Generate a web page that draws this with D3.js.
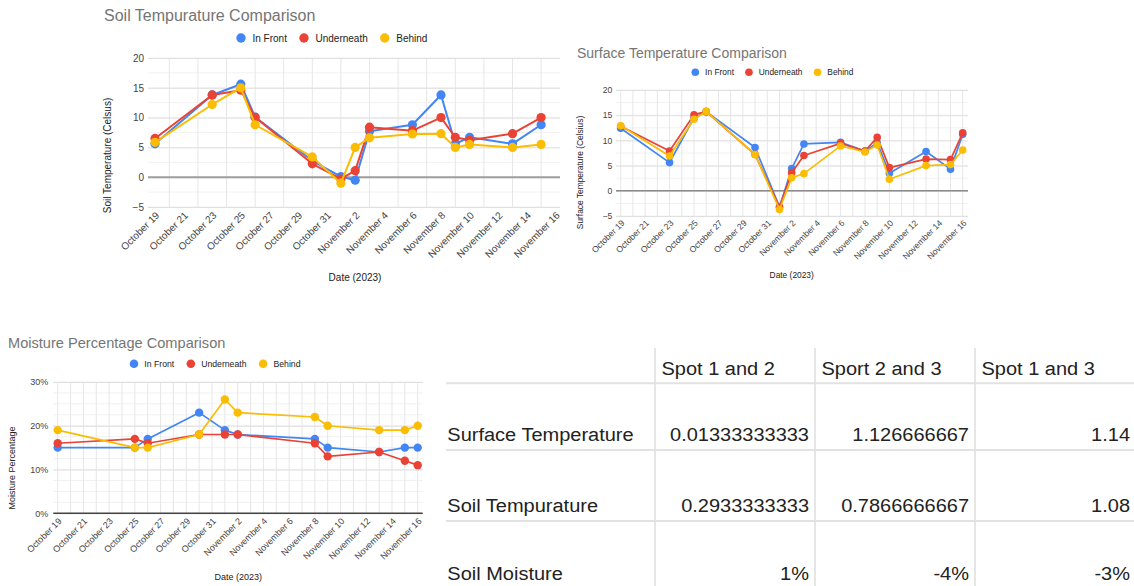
<!DOCTYPE html>
<html>
<head>
<meta charset="utf-8">
<script src="https://cdn.jsdelivr.net/npm/d3@7"></script>
<style>
  body { margin: 0; background: #fff; }
  svg { display: block; font-family: "Liberation Sans", Arial, sans-serif; }
</style>
</head>
<body>
<div id="svg-container"></div>
<script>
////////////////////////////////////////////////////////////////////
//////////////////////////////  Data  //////////////////////////////
const seriesNames = ["In Front", "Underneath", "Behind"];
const seriesColors = ["#4285f4", "#ea4335", "#fbbc04"];

const soilDates = ["2023-10-19", "2023-10-23", "2023-10-25", "2023-10-26", "2023-10-30", "2023-11-01", "2023-11-02",
    "2023-11-03", "2023-11-06", "2023-11-08", "2023-11-09", "2023-11-10", "2023-11-13", "2023-11-15"];
const soilFront = [5.6, 13.8, 15.6, 10.1, 2.75, 0.1, -0.5, 7.7, 8.8, 13.8, 5.6, 6.7, 5.6, 8.8];
const soilUnder = [6.5, 13.8, 14.6, 10.05, 2.25, -0.3, 1.1, 8.4, 7.8, 10.0, 6.7, 6.2, 7.3, 10.0];
const soilBehind = [5.85, 12.2, 15.0, 8.8, 3.4, -1.0, 5.0, 6.6, 7.25, 7.3, 5.0, 5.5, 5.0, 5.5];

const surfDates = ["2023-10-19", "2023-10-23", "2023-10-25", "2023-10-26", "2023-10-30", "2023-11-01", "2023-11-02",
    "2023-11-03", "2023-11-06", "2023-11-08", "2023-11-09", "2023-11-10", "2023-11-13", "2023-11-15", "2023-11-16"];
const surfFront = [12.4, 5.6, 14.5, 15.7, 8.6, -3.2, 4.4, 9.3, 9.6, 7.9, 9.5, 3.5, 7.8, 4.3, 11.2];
const surfUnder = [12.8, 7.9, 15.1, 15.7, 7.2, -3.2, 3.6, 7.0, 9.4, 7.9, 10.6, 4.6, 6.3, 6.2, 11.5];
const surfBehind = [12.9, 6.9, 14.2, 15.75, 7.2, -3.7, 2.6, 3.4, 8.9, 7.7, 9.1, 2.3, 5.0, 5.2, 8.1];

const moistDates = ["2023-10-19", "2023-10-25", "2023-10-26", "2023-10-30", "2023-11-01", "2023-11-02",
    "2023-11-08", "2023-11-09", "2023-11-13", "2023-11-15", "2023-11-16"];
const moistFront = [15, 15, 17, 23, 19, 18, 17, 15, 14, 15, 15];
const moistUnder = [16, 17, 16, 18, 18, 18, 16, 13, 14, 12, 11];
const moistBehind = [19, 15, 15, 18, 26, 23, 22, 20, 19, 19, 20];

const tableCols = ["Spot 1 and 2", "Sport 2 and 3", "Spot 1 and 3"];
const tableRows = ["Surface Temperature", "Soil Tempurature", "Soil Moisture"];
const tableValues = [
    ["0.01333333333", "1.126666667", "1.14"],
    ["0.2933333333", "0.7866666667", "1.08"],
    ["1%", "-4%", "-3%"]
];

////////////////////////////////////////////////////////////////////
//////////////////////////////  Init  //////////////////////////////
const width = 1134, height = 586;
const svg = d3.select("#svg-container").append("svg")
    .attr("width", width).attr("height", height);
svg.append("rect").attr("width", width).attr("height", height).attr("fill", "#fff");

const parseDate = d3.utcParse("%Y-%m-%d");
const firstDay = parseDate("2023-10-19");
const lastDay = parseDate("2023-11-16");
const formatDay = d3.utcFormat("%B %-d");

function drawChart(c) {
    const g = svg.append("g");

    const x = d3.scaleUtc().domain([firstDay, lastDay]).range(c.xRange);
    const y = d3.scaleLinear().domain(c.yDomain).range([c.frame.bottom, c.frame.top]);

    // minor horizontal grid
    g.append("g")
        .selectAll("line")
        .data(d3.range(c.yDomain[0], c.yDomain[1] + 0.001, c.minorStep))
        .join("line")
        .attr("x1", c.frame.left).attr("x2", c.frame.right)
        .attr("y1", (d) => y(d)).attr("y2", (d) => y(d))
        .attr("stroke", "#f1f1f1").attr("stroke-width", 1);

    // vertical grid
    g.append("g")
        .selectAll("line")
        .data(c.vGrid)
        .join("line")
        .attr("x1", (d) => x(d)).attr("x2", (d) => x(d))
        .attr("y1", c.frame.top).attr("y2", c.frame.bottom)
        .attr("stroke", "#e6e6e6").attr("stroke-width", 1);

    // major horizontal grid + y labels
    const yAxis = d3.axisLeft(y).tickValues(c.yTicks).tickFormat(c.yFormat)
        .tickSize(-(c.frame.right - c.frame.left)).tickPadding(c.frame.left - c.yLabelX);
    const ya = g.append("g").attr("transform", `translate(${c.frame.left},0)`).call(yAxis);
    ya.select(".domain").remove();
    ya.selectAll(".tick line").attr("stroke", "#e0e0e0").attr("stroke-width", 1);
    ya.selectAll(".tick text").attr("fill", "#444").attr("font-size", c.tickSize)
        .attr("font-family", "Liberation Sans, Arial, sans-serif");

    // baseline
    g.append("line")
        .attr("x1", c.frame.left).attr("x2", c.frame.right)
        .attr("y1", y(c.baseValue)).attr("y2", y(c.baseValue))
        .attr("stroke", c.baseColor).attr("stroke-width", c.baseWidth);

    // x labels
    const xAxis = d3.axisBottom(x).tickValues(d3.utcDay.range(firstDay, d3.utcDay.offset(lastDay, 1), 2))
        .tickFormat(formatDay).tickSize(0);
    const xa = g.append("g").attr("transform", `translate(0,${c.frame.bottom})`).call(xAxis);
    xa.select(".domain").remove();
    xa.selectAll(".tick text")
        .attr("fill", "#444").attr("font-size", c.tickSize)
        .attr("font-family", "Liberation Sans, Arial, sans-serif")
        .attr("text-anchor", "end").attr("y", 0).attr("dy", 0)
        .attr("transform", `translate(${c.labelDx},${c.labelDy}) rotate(-45)`);

    // series
    const series = [c.front, c.under, c.behind];
    series.forEach((vals, i) => {
        const pts = c.dates.map((d, j) => ({ date: parseDate(d), v: vals[j] }));
        g.append("path")
            .datum(pts)
            .attr("fill", "none")
            .attr("stroke", seriesColors[i])
            .attr("stroke-width", c.lineWidth)
            .attr("stroke-linejoin", "round")
            .attr("d", d3.line().x((d) => x(d.date)).y((d) => y(d.v)));
        g.append("g").selectAll("circle")
            .data(pts)
            .join("circle")
            .attr("cx", (d) => x(d.date))
            .attr("cy", (d) => y(d.v))
            .attr("r", c.pointR)
            .attr("fill", seriesColors[i]);
    });

    // title
    g.append("text")
        .attr("x", c.titleX).attr("y", c.titleY)
        .attr("font-size", c.titleSize).attr("fill", "#757575")
        .text(c.title);

    // legend
    let lx = c.legendX;
    seriesNames.forEach((name, i) => {
        g.append("circle").attr("cx", lx).attr("cy", c.legendY).attr("r", c.legendR).attr("fill", seriesColors[i]);
        const t = g.append("text")
            .attr("x", lx + c.legendDx).attr("y", c.legendY).attr("dy", "0.35em")
            .attr("font-size", c.legendSize).attr("fill", "#222")
            .text(name);
        lx += c.legendDx + t.node().getComputedTextLength() + c.legendGap;
    });

    // axis titles
    g.append("text")
        .attr("transform", `translate(${c.yTitleX},${c.yTitleY}) rotate(-90)`)
        .attr("text-anchor", "middle")
        .attr("font-size", c.axisTitleSize).attr("fill", "#222")
        .text(c.yTitle);
    g.append("text")
        .attr("x", c.xTitleX).attr("y", c.xTitleY)
        .attr("text-anchor", "middle")
        .attr("font-size", c.axisTitleSize).attr("fill", "#222")
        .text("Date (2023)");
}

////////////////////////////////////////////////////////////////////
////////////////////////////  Charts  //////////////////////////////
drawChart({
    title: "Soil Tempurature Comparison", titleX: 104, titleY: 20.5, titleSize: 16,
    legendX: 241, legendY: 38, legendR: 4.7, legendSize: 10, legendDx: 11.5, legendGap: 17,
    dates: soilDates, front: soilFront, under: soilUnder, behind: soilBehind,
    frame: { left: 148, right: 560, top: 58, bottom: 207 },
    xRange: [155, 555.4],
    yDomain: [-5, 20], yTicks: [-5, 0, 5, 10, 15, 20], minorStep: 2.5, yFormat: d3.format("d"), yLabelX: 144,
    vGrid: d3.utcDay.range(parseDate("2023-10-20"), lastDay, 2),
    baseValue: 0, baseColor: "#9e9e9e", baseWidth: 2,
    tickSize: 10, labelDx: 4.5, labelDy: 9,
    lineWidth: 2, pointR: 4.6,
    yTitle: "Soil Temperature (Celsus)", yTitleX: 111, yTitleY: 155.5,
    xTitleX: 355, xTitleY: 280.5, axisTitleSize: 10
});

drawChart({
    title: "Surface Temperature Comparison", titleX: 577, titleY: 57.5, titleSize: 14,
    legendX: 695.3, legendY: 72.3, legendR: 3.8, legendSize: 8.4, legendDx: 9.8, legendGap: 15,
    dates: surfDates, front: surfFront, under: surfUnder, behind: surfBehind,
    frame: { left: 616, right: 968, top: 90, bottom: 216 },
    xRange: [620.7, 962.7],
    yDomain: [-5, 20], yTicks: [-5, 0, 5, 10, 15, 20], minorStep: 2.5, yFormat: d3.format("d"), yLabelX: 612.3,
    vGrid: d3.utcDay.range(firstDay, d3.utcDay.offset(lastDay, 1), 1),
    baseValue: 0, baseColor: "#8a8a8a", baseWidth: 1.4,
    tickSize: 8.6, labelDx: 4, labelDy: 7.5,
    lineWidth: 1.7, pointR: 3.8,
    yTitle: "Surface Temperature (Celsius)", yTitleX: 583, yTitleY: 172.5,
    xTitleX: 791.7, xTitleY: 278, axisTitleSize: 8.4
});

drawChart({
    title: "Moisture Percentage Comparison", titleX: 8, titleY: 348.3, titleSize: 14.6,
    legendX: 134, legendY: 363.7, legendR: 4.3, legendSize: 8.7, legendDx: 10.3, legendGap: 16.6,
    dates: moistDates, front: moistFront, under: moistUnder, behind: moistBehind,
    frame: { left: 53.3, right: 422.7, top: 382, bottom: 513.3 },
    xRange: [57.7, 417.7],
    yDomain: [0, 30], yTicks: [0, 10, 20, 30], minorStep: 2.5, yFormat: (d) => d + "%", yLabelX: 48.3,
    vGrid: d3.utcDay.range(firstDay, d3.utcDay.offset(lastDay, 1), 1),
    baseValue: 0, baseColor: "#444", baseWidth: 1.4,
    tickSize: 9, labelDx: 4, labelDy: 8.5,
    lineWidth: 1.7, pointR: 4.2,
    yTitle: "Moisture Percentage", yTitleX: 15, yTitleY: 468,
    xTitleX: 238.3, xTitleY: 580, axisTitleSize: 9
});

////////////////////////////////////////////////////////////////////
/////////////////////////////  Table  //////////////////////////////
const colLines = [655, 815, 975];
const rowLines = [383.3, 450, 521];
const rowBaselines = [441, 511.7, 580];
const tg = svg.append("g").attr("font-size", 20).attr("fill", "#222");

tg.selectAll("line.h").data(rowLines).join("line")
    .attr("x1", 446).attr("x2", width)
    .attr("y1", (d) => d).attr("y2", (d) => d)
    .attr("stroke", "#e2e2e2").attr("stroke-width", 2);
tg.selectAll("line.v").data(colLines).join("line")
    .attr("x1", (d) => d).attr("x2", (d) => d)
    .attr("y1", 348).attr("y2", height)
    .attr("stroke", "#e2e2e2").attr("stroke-width", 1.7);

const cell = (x, y, txt, anchor) => tg.append("text")
    .attr("transform", `translate(${x},${y}) scale(1,0.89)`)
    .attr("text-anchor", anchor)
    .text(txt);

tableCols.forEach((c, i) => cell(colLines[i] + 6.5, 375, c, "start"));
tableRows.forEach((r, i) => {
    cell(447.3, rowBaselines[i], r, "start");
    tableValues[i].forEach((v, j) => {
        const right = j < 2 ? colLines[j + 1] - 6 : 1130;
        cell(right, rowBaselines[i], v, "end");
    });
});
</script>
</body>
</html>
